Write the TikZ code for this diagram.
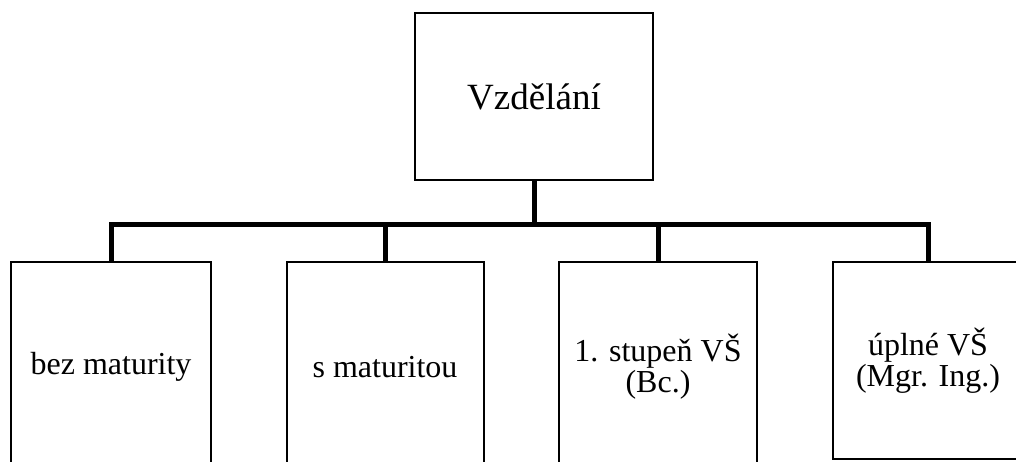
\documentclass[tikz,border=0pt]{standalone}
\usepackage{fontspec}
\setmainfont{Liberation Serif}
\begin{document}
\begin{tikzpicture}[x=1pt,y=-1pt,
  box/.style={draw=black,line width=2pt,fill=white,inner sep=0pt,align=center,
              font=\fontsize{32}{31}\selectfont},
  conn/.style={draw=black,line width=5pt}]
  \useasboundingbox (0,0) rectangle (1016,461);
  \clip (0,0) rectangle (1016,461);

  % root box
  \node[box,minimum width=238pt,minimum height=167pt,
        font=\fontsize{37}{40}\selectfont] (root) at (534,96.5) {Vzdělání};

  % second level
  \node[box,minimum width=200pt,minimum height=210pt] (b1) at (111,367) {bez maturity};
  \node[box,minimum width=197pt,minimum height=210pt] (b2) at (385,367) {s maturitou};
  \node[box,minimum width=198pt,minimum height=210pt] (b3) at (658,367) {1. stupeň VŠ\\(Bc.)};
  \node[box,minimum width=190pt,minimum height=197pt] (b4) at (928,360.5) {úplné VŠ\\(Mgr. Ing.)};

  % tree connectors
  \coordinate (bus) at (534,224);
  \draw[conn] (root.south) -- (bus);
  \draw[conn] (b1.north) |- (bus) -| (b4.north);
  \draw[conn] (b2.north) -- (b2.north |- bus);
  \draw[conn] (b3.north) -- (b3.north |- bus);
\end{tikzpicture}
\end{document}
